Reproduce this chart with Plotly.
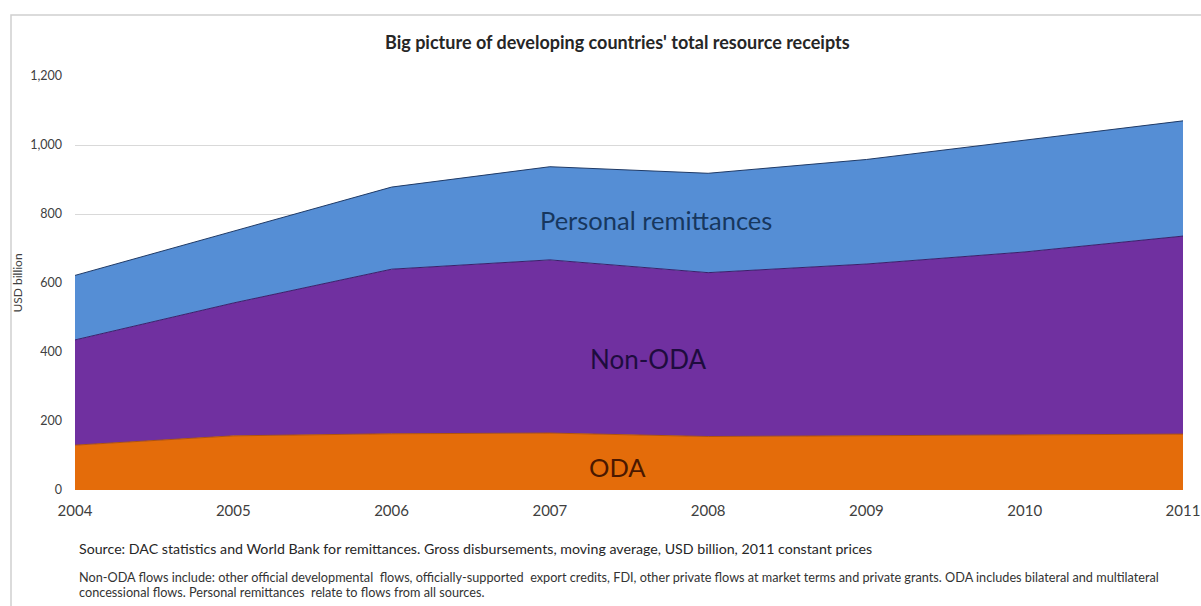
import plotly.graph_objects as go

# Annual receipts, USD billion (2011 constant prices)
years = [2004, 2005, 2006, 2007, 2008, 2009, 2010, 2011]
oda = [130, 157, 163, 165, 155, 158, 160, 162]
non_oda = [305, 385, 477, 502, 475, 497, 530, 574]
remittances = [187, 208, 238, 270, 288, 303, 325, 334]

y_ticks = [0, 200, 400, 600, 800, 1000, 1200]
y_tick_text = ["0", "200", "400", "600", "800", "1,000", "1,200"]

FONT = "Lato, 'Open Sans', sans-serif"

fig = go.Figure()

series = [
    ("ODA", oda, "#E46C0A", "#B0520A"),
    ("Non-ODA", non_oda, "#7030A0", "#3A1F6A"),
    ("Personal remittances", remittances, "#558ED5", "#1F3A66"),
]
for name, vals, fill, edge in series:
    fig.add_trace(go.Scatter(
        x=years, y=vals, name=name, mode="lines",
        stackgroup="flows", fillcolor=fill,
        line=dict(color=edge, width=1),
        hoverinfo="x+y+name",
    ))

# In-area series labels
area_labels = [
    ("Personal remittances", 2007.67, 783, "#17375E", 25.5),
    ("Non-ODA", 2007.62, 380, "#1E0C3E", 26),
    ("ODA", 2007.43, 67, "#4A1800", 25.5),
]
for text, xv, yv, col, size in area_labels:
    fig.add_annotation(x=xv, y=yv, xref="x", yref="y", text=text,
                       showarrow=False,
                       font=dict(family=FONT, size=size, color=col))

# Plot area spans pixels x 75..1183, y 76..490
W, H = 1201, 606
L, R, T, B = 75, 18, 76, 116
pw, ph = W - L - R, H - T - B


def px(x):
    return (x - L) / pw


def py(y):
    return (H - B - y) / ph


fig.add_annotation(
    x=px(617), y=py(42), xref="paper", yref="paper",
    text="<b>Big picture of developing countries' total resource receipts</b>",
    showarrow=False, xanchor="center", yanchor="middle",
    font=dict(family=FONT, size=18, color="#262626"),
)
fig.add_annotation(
    x=px(77), y=py(548), xref="paper", yref="paper",
    text="Source: DAC statistics and World Bank for remittances. Gross disbursements, "
         "moving average, USD billion, 2011 constant prices",
    showarrow=False, xanchor="left", yanchor="middle",
    font=dict(family=FONT, size=14.2, color="#262626"),
)
fig.add_annotation(
    x=px(77), y=py(577), xref="paper", yref="paper",
    text="Non-ODA flows include: other official developmental  flows, officially-supported  export credits, "
         "FDI, other private flows at market terms and private grants. ODA includes bilateral and multilateral",
    showarrow=False, xanchor="left", yanchor="middle", align="left",
    font=dict(family=FONT, size=12.7, color="#333333"),
)
fig.add_annotation(
    x=px(77), y=py(592), xref="paper", yref="paper",
    text="concessional flows. Personal remittances  relate to flows from all sources.",
    showarrow=False, xanchor="left", yanchor="middle", align="left",
    font=dict(family=FONT, size=12.7, color="#333333"),
)

# Outer chart frame
fig.add_shape(type="rect", xref="paper", yref="paper",
              x0=px(11), x1=px(1215), y0=py(620), y1=py(15),
              line=dict(color="#D0D0D0", width=1.5), fillcolor="rgba(0,0,0,0)",
              layer="below")

fig.update_layout(
    width=W, height=H,
    margin=dict(l=L, r=R, t=T, b=B, autoexpand=False),
    paper_bgcolor="white", plot_bgcolor="white",
    showlegend=False,
    font=dict(family=FONT, color="#404040"),
    xaxis=dict(
        range=[2004, 2011], tickmode="array", tickvals=years,
        ticktext=[str(y) for y in years],
        showgrid=False, zeroline=False, showline=False,
        ticks="", ticklabelstandoff=10, ticklabeloverflow="allow",
        tickfont=dict(family=FONT, size=15, color="#404040"),
    ),
    yaxis=dict(
        range=[0, 1200], tickmode="array", tickvals=y_ticks, ticktext=y_tick_text,
        showgrid=True, gridcolor="#D9D9D9", gridwidth=1.3,
        zeroline=False, showline=False, ticks="", ticklabelstandoff=12,
        tickfont=dict(family=FONT, size=12.5, color="#404040"),
        title=dict(text="USD billion", standoff=4,
                   font=dict(family=FONT, size=12, color="#404040")),
    ),
)

fig.write_html("out.html")
